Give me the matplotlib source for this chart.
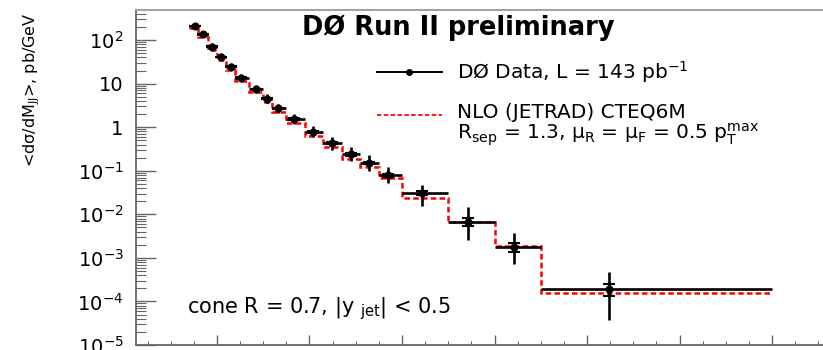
import numpy as np
import matplotlib
matplotlib.use("Agg")
import matplotlib.pyplot as plt
from matplotlib.ticker import FixedLocator, MultipleLocator, FuncFormatter, NullFormatter
from matplotlib.lines import Line2D

# Dijet mass bins (GeV) and measured / predicted cross sections (pb/GeV)
bin_edges = [140, 160, 180, 200, 220, 240, 270, 300, 320, 350, 390, 430,
             470, 510, 550, 600, 700, 800, 900, 1400]
mass_mean = [152, 169, 189, 209, 230, 253, 284, 309, 333, 367, 407, 448,
             489, 529, 570, 643, 743, 843, 1048]
data_xsec = [213, 135, 71, 41.4, 24.7, 13.8, 7.5, 4.5, 2.71, 1.54, 0.78,
             0.432, 0.238, 0.150, 0.0789, 0.0313, 0.00676, 0.0018, 1.9e-4]
# total uncertainty band (upper / lower values)
data_hi = [250, 158, 85, 50, 29.7, 17.0, 9.3, 5.7, 3.44, 2.0, 1.04, 0.61,
           0.345, 0.229, 0.124, 0.047, 0.0149, 0.00366, 4.8e-4]
data_lo = [182, 115, 59, 34.4, 20.5, 11.2, 6.1, 3.55, 2.14, 1.18, 0.58,
           0.306, 0.164, 0.098, 0.0514, 0.0157, 0.00257, 7.1e-4, 3.75e-5]
# relative statistical uncertainty
stat_rel = [0.01, 0.01, 0.01, 0.01, 0.01, 0.015, 0.02, 0.02, 0.03, 0.03,
            0.04, 0.05, 0.06, 0.07, 0.09, 0.12, 0.20, 0.24, 0.30]
nlo_xsec = [185, 115, 60, 35, 21, 11.5, 6.3, 3.8, 2.25, 1.28, 0.64, 0.36,
            0.19, 0.125, 0.067, 0.024, 0.0068, 0.0019, 1.6e-4]

y_tick_values = [1e-5, 1e-4, 1e-3, 1e-2, 1e-1, 1, 10, 100]
y_tick_labels = ["$10^{-5}$", "$10^{-4}$", "$10^{-3}$", "$10^{-2}$",
                 "$10^{-1}$", "1", "10", "$10^{2}$"]

W, H = 823, 350
fig = plt.figure(figsize=(W / 100, H / 100), dpi=100)
fig.patch.set_facecolor("white")
ax_left, ax_right, ax_top, ax_bot = 136, 860, 10, 345
ax = fig.add_axes([ax_left / W, (H - ax_bot) / H,
                   (ax_right - ax_left) / W, (ax_bot - ax_top) / H])

edges = np.array(bin_edges, float)
xm = np.array(mass_mean, float)
y = np.array(data_xsec, float)
yhi = np.array(data_hi, float)
ylo = np.array(data_lo, float)
srel = np.array(stat_rel, float)

# NLO prediction as a dashed red histogram
ax.stairs(nlo_xsec, edges, baseline=None, color="#ff0000", lw=1.8,
          linestyle=(0, (2.2, 1.3)), zorder=2)

# data: bin width as horizontal bar, total uncertainty as vertical bar
xerr = np.vstack([xm - edges[:-1], edges[1:] - xm])
yerr = np.vstack([y - ylo, yhi - y])
ax.errorbar(xm, y, xerr=xerr, yerr=yerr, fmt="o", ms=4.8, color="black",
            mfc="black", mec="black", elinewidth=1.9, capsize=0, zorder=3)
# statistical part with small caps
ax.errorbar(xm, y, yerr=np.vstack([y * srel, y * srel]), fmt="none",
            ecolor="black", elinewidth=1.9, capsize=4.6, capthick=1.5,
            zorder=3)

ax.set_yscale("log")
ax.set_ylim(1e-5, 490)
ax.set_xlim(25, 1590)

spine_col = "#666666"
for name, s in ax.spines.items():
    s.set_color(spine_col if name != "top" else "#999999")
    s.set_linewidth(1.3)

ax.yaxis.set_major_locator(FixedLocator(y_tick_values))
ax.yaxis.set_major_formatter(FuncFormatter(
    lambda v, p: dict(zip(y_tick_values, y_tick_labels)).get(v, "")))
minor_vals = [k * 10.0 ** e for e in range(-5, 3) for k in range(2, 10)]
ax.yaxis.set_minor_locator(FixedLocator(minor_vals))
ax.yaxis.set_minor_formatter(NullFormatter())
ax.xaxis.set_major_locator(MultipleLocator(200))
ax.xaxis.set_minor_locator(MultipleLocator(50))

ax.tick_params(axis="y", which="major", direction="in", length=14.4,
               width=1.0, color=spine_col, labelsize=14, pad=9)
ax.tick_params(axis="y", which="minor", direction="in", length=7.2,
               width=0.8, color=spine_col)
ax.tick_params(axis="x", which="major", direction="in", length=7.2,
               width=1.0, color=spine_col, labelbottom=False)
ax.tick_params(axis="x", which="minor", direction="in", length=3.2,
               width=0.8, color=spine_col)


def ax_xy(px, py):
    return ((px - ax_left) / (ax_right - ax_left),
            (ax_bot - py) / (ax_bot - ax_top))


# title
tx, ty = ax_xy(302, 35)
ax.text(tx, ty, "DØ Run II preliminary", transform=ax.transAxes,
        fontsize=18.5, fontweight="bold", ha="left", va="baseline")

# legend
x0, yl1 = ax_xy(377, 72)
x1, _ = ax_xy(442, 72)
_, yl2 = ax_xy(377, 115)
ax.add_line(Line2D([x0, x1], [yl1, yl1], transform=ax.transAxes,
                   color="black", lw=1.4))
ax.add_line(Line2D([(x0 + x1) / 2], [yl1], transform=ax.transAxes,
                   marker="o", ms=4, color="black", lw=0))
ax.add_line(Line2D([x0, x1], [yl2, yl2], transform=ax.transAxes,
                   color="#ff0000", lw=1.3, linestyle=(0, (2.4, 1.4))))
lx, _ = ax_xy(457, 0)
ax.text(lx, yl1, "DØ Data, L = 143 pb$^{-1}$", transform=ax.transAxes,
        fontsize=14.5, ha="left", va="center")
_, yt2 = ax_xy(0, 118)
ax.text(lx, yt2, "NLO (JETRAD) CTEQ6M", transform=ax.transAxes,
        fontsize=14.5, ha="left", va="baseline")
_, yt3 = ax_xy(0, 139)
ax.text(lx, yt3,
        r"R$_{\mathrm{sep}}$ = 1.3, μ$_{\mathrm{R}}$ = μ$_{\mathrm{F}}$"
        r" = 0.5 p$_{\mathrm{T}}^{\mathrm{max}}$",
        transform=ax.transAxes, fontsize=14.5, ha="left", va="baseline")

# selection note
cx, cy = ax_xy(187, 313)
ax.text(cx, cy, r"cone R = 0.7, |y $_{\mathrm{jet}}$| < 0.5",
        transform=ax.transAxes, fontsize=15, ha="left", va="baseline")

# y axis title
fig.text(32 / W, 1 - 12 / H, "<dσ/dM$_{\\mathrm{JJ}}$>, pb/GeV",
         rotation=90, ha="center", va="top", fontsize=11.5)

fig.savefig("out.png", dpi=100, facecolor="white")
